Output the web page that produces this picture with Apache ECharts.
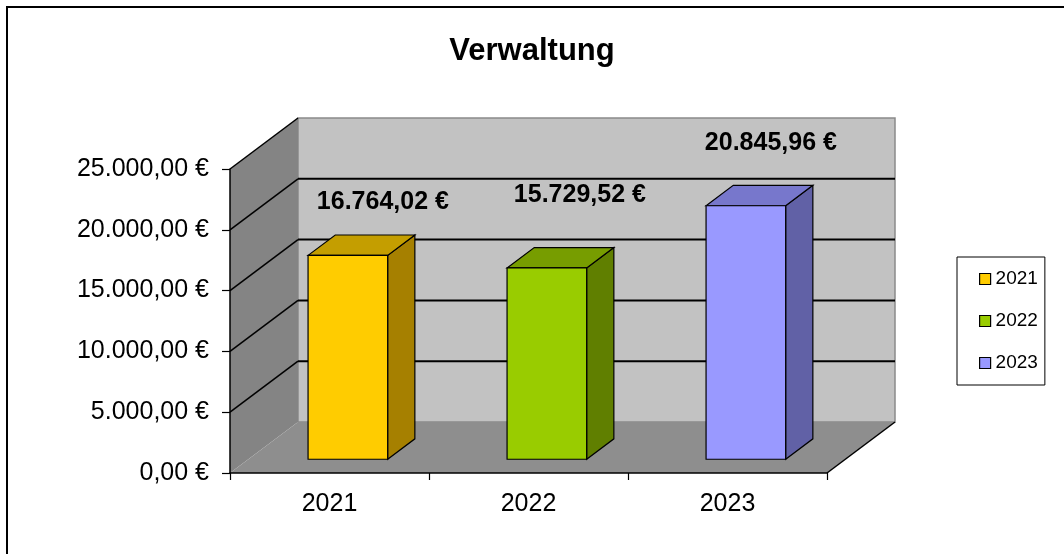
<!DOCTYPE html>
<html lang="de">
<head>
    <meta charset="UTF-8">
    <title>Verwaltung</title>
    <style>
        html, body { margin: 0; padding: 0; background: #fff; }
        #chart { width: 1064px; height: 554px; }
    </style>
</head>
<body>
<div id="chart"></div>
<script src="https://cdn.jsdelivr.net/npm/echarts@6/dist/echarts.min.js"></script>
<script type="text/javascript">
    // Daten
    var categories = ['2021', '2022', '2023'];
    var values = [16764.02, 15729.52, 20845.96];
    var yTicks = [0, 5000, 10000, 15000, 20000, 25000];

    // Farben je Jahr: Vorderseite, Oberseite, Seite
    var frontColors = ['#FFCC00', '#99CC00', '#9999FF'];
    var topColors = ['#C49E00', '#779D00', '#7777CC'];
    var sideColors = ['#A68000', '#607F00', '#6161A6'];

    // 3D-Tiefe in Pixel
    var DX = 68, DY = 51;
    var BAR_FRONT = 0.27;   // Position der Saeulen in der Tiefe
    var BAR_DEPTH = 0.4;
    var BAR_WIDTH = 0.4;    // Anteil der Kategoriebreite
    // Verschiebung der Wertbeschriftung gegenueber der Saeule (wie in Excel)
    var labelDx = [35, 33, 25];
    var labelDy = [-53, -73, -63];

    function euro(v) {
        var s = v.toFixed(2).split('.');
        return s[0].replace(/\B(?=(\d{3})+(?!\d))/g, '.') + ',' + s[1] + ' €';
    }

    var chart = echarts.init(document.getElementById('chart'));

    function renderWalls(params, api) {
        var cs = params.coordSys;
        var x0 = cs.x, x1 = cs.x + cs.width;
        var yTop = cs.y, yBot = cs.y + cs.height;
        var children = [];
        // Rueckwand
        children.push({type: 'rect', shape: {x: x0 + DX, y: yTop - DY, width: cs.width, height: cs.height},
            style: {fill: '#C2C2C2', stroke: '#8A8A8A', lineWidth: 1.5}});
        // Seitenwand
        children.push({type: 'polygon', shape: {points: [[x0, yTop], [x0 + DX, yTop - DY], [x0 + DX, yBot - DY], [x0, yBot]]},
            style: {fill: '#848484'}});
        // Boden
        children.push({type: 'polygon', shape: {points: [[x0, yBot], [x0 + DX, yBot - DY], [x1 + DX, yBot - DY], [x1, yBot]]},
            style: {fill: '#8E8E8E'}});
        children.push({type: 'line', shape: {x1: x1, y1: yBot, x2: x1 + DX, y2: yBot - DY},
            style: {stroke: '#000', lineWidth: 1.5}});
        // Gitterlinien
        for (var i = 1; i < yTicks.length; i++) {
            var y = api.coord([0, yTicks[i]])[1];
            children.push({type: 'line', shape: {x1: x0, y1: y, x2: x0 + DX, y2: y - DY},
                style: {stroke: '#000', lineWidth: 1.5}});
            if (i < yTicks.length - 1) {
                children.push({type: 'line', shape: {x1: x0 + DX, y1: y - DY, x2: x1 + DX, y2: y - DY},
                    style: {stroke: '#000', lineWidth: 2}});
            }
        }
        return {type: 'group', children: children};
    }

    function renderBar(params, api) {
        var idx = api.value(0);
        var base = api.coord([idx, 0]);
        var top = api.coord([idx, api.value(1)]);
        var band = api.size([1, 0])[0];
        var w = band * BAR_WIDTH;
        var fx = base[0] + BAR_FRONT * DX - w / 2;
        var by = base[1] - BAR_FRONT * DY;
        var ty = top[1] - BAR_FRONT * DY;
        var ddx = BAR_DEPTH * DX, ddy = BAR_DEPTH * DY;
        var k = idx;
        var line = {stroke: '#000', lineWidth: 1.2};
        return {
            type: 'group',
            children: [
                {type: 'polygon', shape: {points: [[fx + w, ty], [fx + w + ddx, ty - ddy], [fx + w + ddx, by - ddy], [fx + w, by]]},
                    style: Object.assign({fill: sideColors[k]}, line)},
                {type: 'polygon', shape: {points: [[fx, ty], [fx + ddx, ty - ddy], [fx + w + ddx, ty - ddy], [fx + w, ty]]},
                    style: Object.assign({fill: topColors[k]}, line)},
                {type: 'rect', shape: {x: fx, y: ty, width: w, height: by - ty},
                    style: Object.assign({fill: frontColors[k]}, line)},
                {type: 'text', x: fx + w / 2 + labelDx[k], y: ty + labelDy[k],
                    style: {text: euro(api.value(1)), fill: '#000', align: 'center', verticalAlign: 'middle',
                        font: 'bold 25px "Liberation Sans", Arial, sans-serif'}}
            ]
        };
    }

    var series = [{
        type: 'custom',
        name: 'walls',
        renderItem: renderWalls,
        clip: false,
        silent: true,
        z: 1,
        data: [[0, 0]]
    }];
    for (var i = 0; i < categories.length; i++) {
        series.push({
            type: 'custom',
            name: categories[i],
            renderItem: renderBar,
            clip: false,
            z: 2,
            itemStyle: {color: frontColors[i], borderColor: '#000', borderWidth: 1},
            encode: {x: 0, y: 1},
            data: [[i, values[i]]]
        });
    }

    var option = {
        animation: false,
        textStyle: {fontFamily: '"Liberation Sans", Arial, sans-serif'},
        title: {
            text: 'Verwaltung',
            left: 'center',
            top: 31,
            textStyle: {fontSize: 31, fontWeight: 'bold', color: '#000', fontFamily: '"Liberation Sans", Arial, sans-serif'}
        },
        graphic: [{
            type: 'rect',
            shape: {x: 7, y: 7, width: 1100, height: 600},
            style: {fill: 'none', stroke: '#000', lineWidth: 2},
            silent: true
        }],
        legend: {
            data: categories,
            orient: 'vertical',
            left: 957,
            top: 257,
            padding: [12, 7, 12, 22],
            itemGap: 22,
            itemWidth: 11,
            itemHeight: 11,
            icon: 'rect',
            backgroundColor: '#fff',
            borderColor: '#000',
            borderWidth: 1,
            itemStyle: {borderColor: '#000', borderWidth: 1.2},
            textStyle: {fontSize: 19, lineHeight: 20, color: '#000'}
        },
        grid: {left: 230, top: 169, width: 597, height: 304, containLabel: false},
        xAxis: {
            type: 'category',
            data: categories,
            z: 10,
            axisLine: {lineStyle: {color: '#000', width: 1.5}},
            axisTick: {show: true, length: 7, lineStyle: {color: '#000', width: 1.2}},
            axisLabel: {fontSize: 25, color: '#000', margin: 19},
            splitLine: {show: false}
        },
        yAxis: {
            type: 'value',
            min: 0,
            max: 25000,
            interval: 5000,
            z: 10,
            axisLine: {show: true, lineStyle: {color: '#000', width: 1.5}},
            axisTick: {show: true, length: 8, lineStyle: {color: '#000', width: 1.2}},
            axisLabel: {fontSize: 25, color: '#000', margin: 21, formatter: euro},
            splitLine: {show: false}
        },
        series: series
    };

    chart.setOption(option);
</script>
</body>
</html>
